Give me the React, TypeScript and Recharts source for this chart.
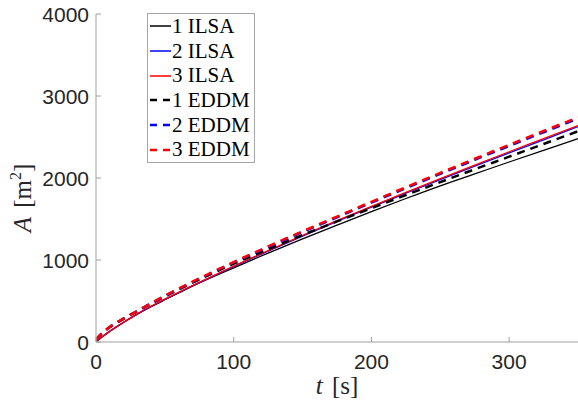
import React from 'react';
import { LineChart, Line, XAxis, YAxis, Legend, Label } from 'recharts';

// time samples [s]
const times = [0, 5, 10, 20, 30, 40, 50, 60, 75, 100, 125, 150, 175, 200, 225, 250, 275, 300, 325, 350];

// area A [m^2]
const ilsa1 = [0, 70, 130, 238, 340, 430, 515, 598, 720, 905, 1085, 1258, 1425, 1590, 1750, 1905, 2050, 2195, 2338, 2480];
const ilsa2 = [0, 70, 130, 240, 342, 434, 520, 603, 723, 920, 1108, 1292, 1471, 1645, 1814, 1981, 2145, 2306, 2466, 2626];
const ilsa3 = [0, 70, 130, 240, 343, 435, 522, 606, 727, 925, 1115, 1300, 1480, 1655, 1825, 1993, 2158, 2320, 2480, 2640];
const eddm1 = [30, 115, 181, 283, 375, 468, 556, 640, 762, 955, 1132, 1305, 1470, 1632, 1792, 1950, 2106, 2260, 2415, 2570];
const eddm2 = [30, 115, 182, 285, 377, 472, 561, 647, 771, 970, 1158, 1342, 1521, 1700, 1876, 2050, 2222, 2391, 2558, 2724];
const eddm3 = [30, 115, 182, 285, 378, 473, 563, 650, 775, 975, 1165, 1350, 1530, 1710, 1887, 2062, 2235, 2405, 2573, 2740];

const xTicks = [0, 100, 200, 300];
const yTicks = [0, 1000, 2000, 3000, 4000];

const data = times.map((t, i) => ({
  t,
  ilsa1: ilsa1[i],
  ilsa2: ilsa2[i],
  ilsa3: ilsa3[i],
  eddm1: eddm1[i],
  eddm2: eddm2[i],
  eddm3: eddm3[i],
}));

const series = [
  { key: 'ilsa1', name: '1 ILSA', color: '#000000', dashed: false },
  { key: 'ilsa2', name: '2 ILSA', color: '#0000ff', dashed: false },
  { key: 'ilsa3', name: '3 ILSA', color: '#ff0000', dashed: false },
  { key: 'eddm1', name: '1 EDDM', color: '#000000', dashed: true },
  { key: 'eddm2', name: '2 EDDM', color: '#0000ff', dashed: true },
  { key: 'eddm3', name: '3 EDDM', color: '#ff0000', dashed: true },
];

const axisColor = '#a0a0a0';
const tickFont = '"Liberation Sans", Arial, Helvetica, sans-serif';
const serifFont = '"Liberation Serif", "Times New Roman", serif';

const XTick = (props: any) => {
  const { x, y, payload } = props;
  return (
    <g>
      <line x1={x} x2={x} y1={y} y2={y - 5} stroke={axisColor} />
      <text x={x} y={y + 27} textAnchor="middle" fontSize={21} fill="#262626" fontFamily={tickFont}>
        {payload.value}
      </text>
    </g>
  );
};

const YTick = (props: any) => {
  const { x, y, payload } = props;
  return (
    <g>
      <line x1={x} x2={x + 5} y1={y} y2={y} stroke={axisColor} />
      <text x={x - 7} y={y + 7.5} textAnchor="end" fontSize={21} fill="#262626" fontFamily={tickFont}>
        {payload.value}
      </text>
    </g>
  );
};

const LegendBox = () => (
  <div
    style={{
      border: '1px solid #a6a6a6',
      background: '#fff',
      width: 106,
      fontFamily: serifFont,
      fontSize: 21,
      color: '#000',
    }}
  >
    {series.map(s => (
      <div key={s.key} style={{ display: 'flex', alignItems: 'center', height: 24.7 }}>
        <svg width={23} height={10} style={{ marginLeft: 1 }}>
          <line
            x1={1}
            x2={22}
            y1={5}
            y2={5}
            stroke={s.color}
            strokeWidth={s.dashed ? 2.5 : 1.5}
            strokeDasharray={s.dashed ? '7 6' : undefined}
          />
        </svg>
        <span style={{ lineHeight: '21px' }}>{s.name}</span>
      </div>
    ))}
  </div>
);

export default function App() {
  return (
    <div style={{ position: 'absolute', left: 0, top: 0, background: '#fff' }}>
      <LineChart width={578} height={405} data={data} margin={{ top: 14, right: 0, bottom: 0, left: 0 }}>
        <XAxis
          dataKey="t"
          type="number"
          domain={[0, 350]}
          ticks={xTicks}
          height={63}
          stroke={axisColor}
          tickSize={0}
          tickMargin={0}
          tick={<XTick />}
          allowDataOverflow
        >
          <Label
            content={() => (
              <text x={337} y={394} textAnchor="middle" fontSize={25} fontFamily={serifFont} fill="#262626">
                <tspan fontStyle="italic">t</tspan>
                <tspan dx={3}> [s]</tspan>
              </text>
            )}
          />
        </XAxis>
        <YAxis
          type="number"
          domain={[0, 4000]}
          ticks={yTicks}
          width={96}
          stroke={axisColor}
          tickSize={0}
          tickMargin={0}
          tick={<YTick />}
          allowDataOverflow
        >
          <Label
            content={() => (
              <text
                x={31}
                y={198}
                transform="rotate(-90 31 198)"
                textAnchor="middle"
                fontSize={25}
                fontFamily={serifFont}
                fill="#262626"
              >
                <tspan fontStyle="italic">A</tspan>
                <tspan dx={3}> [m</tspan>
                <tspan fontSize={16} dy={-10}>2</tspan>
                <tspan dy={10}>]</tspan>
              </text>
            )}
          />
        </YAxis>
        {series.map(s => (
          <Line
            key={s.key}
            type="monotone"
            dataKey={s.key}
            name={s.name}
            stroke={s.color}
            strokeWidth={s.dashed ? 2.5 : 1.3}
            strokeDasharray={s.dashed ? '8 6' : undefined}
            dot={false}
            activeDot={false}
            isAnimationActive={false}
          />
        ))}
        <Legend
          layout="vertical"
          align="center"
          verticalAlign="middle"
          content={() => <LegendBox />}
          wrapperStyle={{ left: 147, top: 13, width: 108 }}
        />
      </LineChart>
    </div>
  );
}
